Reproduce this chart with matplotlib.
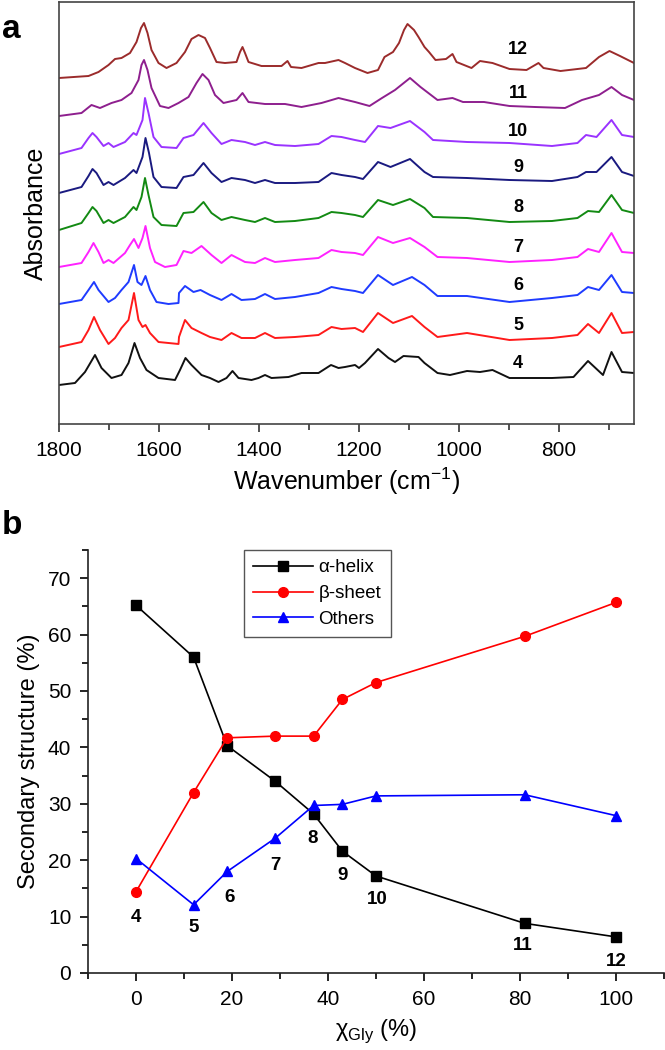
import matplotlib
matplotlib.use("Agg")
import matplotlib.pyplot as plt
from matplotlib.ticker import MultipleLocator, NullLocator

plt.rcParams['font.family'] = ['Liberation Sans', 'DejaVu Sans']

# ---------------- Panel a: FTIR spectra (offset, arbitrary units) ----------------
wn_12 = [1800, 1741, 1721, 1701, 1688, 1675, 1658, 1645, 1636, 1630, 1623, 1615, 1601, 1585, 1565,
         1548, 1535, 1521, 1508, 1498, 1485, 1468, 1445, 1438, 1433, 1428, 1421, 1395, 1355, 1343,
         1336, 1315, 1281, 1268, 1241, 1228, 1208, 1183, 1162, 1149, 1132, 1120, 1110, 1103, 1090,
         1081, 1069, 1060, 1047, 1026, 1013, 1005, 975, 958, 933, 899, 865, 841, 831, 797, 746, 720,
         699, 678, 650]
ab_12 = [3.46, 3.48, 3.52, 3.59, 3.65, 3.66, 3.71, 3.82, 3.96, 4.01, 3.91, 3.74, 3.61, 3.56, 3.61,
         3.72, 3.85, 3.89, 3.86, 3.76, 3.62, 3.61, 3.62, 3.72, 3.77, 3.71, 3.62, 3.58, 3.58, 3.63,
         3.57, 3.56, 3.61, 3.61, 3.64, 3.61, 3.56, 3.51, 3.54, 3.67, 3.72, 3.81, 3.94, 4.00, 3.94,
         3.87, 3.77, 3.72, 3.64, 3.65, 3.70, 3.62, 3.56, 3.63, 3.61, 3.55, 3.54, 3.61, 3.56, 3.53, 3.56,
         3.67, 3.73, 3.68, 3.61]

wn_11 = [1800, 1755, 1735, 1718, 1695, 1675, 1655, 1641, 1635, 1630, 1623, 1615, 1598, 1581, 1561,
         1541, 1525, 1513, 1501, 1488, 1471, 1445, 1433, 1421, 1388, 1348, 1315, 1275, 1241, 1208,
         1179, 1154, 1128, 1098, 1077, 1043, 1013, 992, 950, 899, 848, 788, 754, 720, 695, 674, 650]
ab_11 = [3.08, 3.11, 3.19, 3.16, 3.21, 3.24, 3.31, 3.44, 3.59, 3.64, 3.54, 3.36, 3.18, 3.16, 3.21,
         3.27, 3.41, 3.50, 3.44, 3.29, 3.21, 3.24, 3.31, 3.22, 3.20, 3.20, 3.17, 3.21, 3.26, 3.22,
         3.18, 3.26, 3.34, 3.46, 3.37, 3.24, 3.26, 3.22, 3.22, 3.18, 3.17, 3.16, 3.24, 3.29, 3.37, 3.29, 3.24]

wn_10 = [1800, 1755, 1741, 1733, 1725, 1711, 1701, 1691, 1668, 1651, 1645, 1633, 1628, 1621, 1611,
         1595, 1565, 1551, 1531, 1511, 1495, 1475, 1455, 1428, 1408, 1388, 1368, 1328, 1281, 1255,
         1235, 1208, 1188, 1162, 1137, 1098, 1069, 1052, 984, 899, 814, 763, 746, 725, 695, 674, 650]
ab_10 = [2.70, 2.76, 2.86, 2.91, 2.87, 2.78, 2.81, 2.77, 2.82, 2.91, 2.89, 3.04, 3.26, 3.11, 2.87,
         2.77, 2.76, 2.86, 2.89, 3.01, 2.91, 2.80, 2.84, 2.82, 2.79, 2.82, 2.79, 2.78, 2.80, 2.88,
         2.87, 2.84, 2.82, 2.98, 2.96, 3.03, 2.92, 2.84, 2.82, 2.81, 2.78, 2.81, 2.89, 2.87, 3.04, 2.89, 2.87]

wn_9 = [1800, 1755, 1741, 1733, 1725, 1711, 1701, 1691, 1668, 1651, 1645, 1633, 1627, 1620, 1611,
        1595, 1565, 1551, 1531, 1511, 1495, 1475, 1455, 1428, 1408, 1388, 1368, 1328, 1281, 1255,
        1235, 1208, 1192, 1162, 1137, 1098, 1069, 1052, 984, 899, 814, 763, 746, 725, 695, 674, 650]
ab_9 = [2.31, 2.37, 2.48, 2.55, 2.51, 2.39, 2.42, 2.39, 2.46, 2.54, 2.51, 2.67, 2.86, 2.71, 2.47,
        2.37, 2.36, 2.47, 2.49, 2.61, 2.51, 2.42, 2.46, 2.44, 2.41, 2.44, 2.41, 2.41, 2.42, 2.51,
        2.49, 2.47, 2.45, 2.62, 2.57, 2.65, 2.52, 2.47, 2.46, 2.44, 2.43, 2.47, 2.52, 2.52, 2.67, 2.52, 2.48]

wn_8 = [1800, 1755, 1741, 1733, 1725, 1711, 1701, 1691, 1668, 1651, 1645, 1635, 1628, 1621, 1611,
        1595, 1565, 1551, 1531, 1511, 1495, 1475, 1455, 1428, 1408, 1388, 1368, 1328, 1281, 1255,
        1235, 1208, 1192, 1162, 1132, 1098, 1069, 1052, 984, 899, 814, 763, 742, 720, 695, 674, 650]
ab_8 = [1.94, 2.01, 2.11, 2.17, 2.13, 2.01, 2.04, 2.01, 2.07, 2.17, 2.14, 2.27, 2.46, 2.29, 2.07,
        1.99, 1.98, 2.11, 2.12, 2.22, 2.11, 2.04, 2.07, 2.04, 2.02, 2.06, 2.02, 2.03, 2.06, 2.12,
        2.11, 2.09, 2.07, 2.24, 2.19, 2.25, 2.16, 2.07, 2.06, 2.02, 2.03, 2.06, 2.13, 2.12, 2.29, 2.14, 2.11]

wn_7 = [1800, 1755, 1741, 1731, 1721, 1711, 1701, 1691, 1668, 1658, 1650, 1641, 1633, 1627, 1618,
        1608, 1588, 1565, 1551, 1535, 1515, 1495, 1475, 1455, 1428, 1408, 1388, 1368, 1328, 1281,
        1255, 1235, 1208, 1192, 1162, 1132, 1098, 1069, 1043, 984, 899, 814, 763, 742, 720, 695, 674, 650]
ab_7 = [1.57, 1.61, 1.72, 1.81, 1.72, 1.61, 1.64, 1.61, 1.71, 1.79, 1.85, 1.76, 1.86, 1.98, 1.76,
        1.62, 1.57, 1.59, 1.73, 1.71, 1.78, 1.69, 1.61, 1.69, 1.62, 1.61, 1.66, 1.62, 1.64, 1.66,
        1.74, 1.72, 1.71, 1.69, 1.87, 1.81, 1.86, 1.77, 1.67, 1.66, 1.62, 1.64, 1.67, 1.75, 1.72, 1.91, 1.72, 1.71]

wn_6 = [1800, 1755, 1741, 1730, 1721, 1701, 1688, 1675, 1661, 1650, 1643, 1635, 1627, 1618, 1605,
        1581, 1561, 1560, 1548, 1531, 1517, 1498, 1475, 1455, 1435, 1408, 1388, 1368, 1328, 1281,
        1255, 1235, 1208, 1192, 1162, 1132, 1094, 1069, 1043, 984, 899, 814, 763, 742, 720, 695, 674, 650]
ab_6 = [1.20, 1.24, 1.34, 1.42, 1.34, 1.22, 1.26, 1.34, 1.42, 1.59, 1.42, 1.39, 1.48, 1.34, 1.22,
        1.20, 1.21, 1.31, 1.38, 1.32, 1.34, 1.29, 1.24, 1.30, 1.24, 1.25, 1.30, 1.25, 1.27, 1.31,
        1.37, 1.35, 1.33, 1.31, 1.49, 1.39, 1.47, 1.39, 1.28, 1.28, 1.22, 1.26, 1.29, 1.37, 1.34, 1.49, 1.32, 1.31]

wn_5 = [1800, 1755, 1741, 1730, 1718, 1701, 1688, 1675, 1661, 1650, 1641, 1633, 1627, 1618, 1601,
        1561, 1560, 1548, 1535, 1515, 1498, 1475, 1455, 1435, 1408, 1388, 1368, 1328, 1281, 1255,
        1235, 1208, 1192, 1162, 1132, 1094, 1069, 1043, 984, 899, 814, 763, 742, 720, 695, 674, 650]
ab_5 = [0.77, 0.82, 0.94, 1.07, 0.94, 0.80, 0.86, 0.96, 1.04, 1.31, 1.04, 0.97, 0.99, 0.91, 0.82,
        0.80, 0.87, 1.04, 0.96, 0.91, 0.87, 0.84, 0.91, 0.86, 0.86, 0.91, 0.86, 0.87, 0.89, 0.97,
        0.95, 0.96, 0.92, 1.11, 1.01, 1.08, 0.97, 0.87, 0.91, 0.84, 0.86, 0.89, 1.00, 0.91, 1.11, 0.91, 0.92]

wn_4 = [1800, 1768, 1748, 1728, 1715, 1695, 1675, 1661, 1649, 1638, 1625, 1601, 1568, 1558, 1547,
        1535, 1515, 1498, 1481, 1465, 1453, 1441, 1415, 1401, 1388, 1375, 1341, 1315, 1281, 1256,
        1241, 1228, 1208, 1200, 1188, 1162, 1141, 1128, 1111, 1081, 1069, 1043, 1018, 984, 958,
        933, 899, 814, 771, 742, 712, 695, 674, 650]
ab_4 = [0.39, 0.41, 0.52, 0.69, 0.56, 0.46, 0.49, 0.61, 0.81, 0.66, 0.54, 0.46, 0.44, 0.54, 0.66,
        0.59, 0.49, 0.46, 0.42, 0.46, 0.53, 0.46, 0.44, 0.46, 0.49, 0.46, 0.47, 0.51, 0.51, 0.59,
        0.56, 0.57, 0.59, 0.56, 0.61, 0.75, 0.66, 0.62, 0.68, 0.67, 0.61, 0.51, 0.49, 0.53, 0.52,
        0.54, 0.46, 0.46, 0.47, 0.63, 0.49, 0.72, 0.52, 0.51]

spec_labels = ['12', '11', '10', '9', '8', '7', '6', '5', '4']
spec_wn = [wn_12, wn_11, wn_10, wn_9, wn_8, wn_7, wn_6, wn_5, wn_4]
spec_ab = [ab_12, ab_11, ab_10, ab_9, ab_8, ab_7, ab_6, ab_5, ab_4]
spec_colors = ['#9B2B2B', '#8E1F8E', '#9A33FF', '#1A1A80', '#138A13', '#FF22FF', '#1F3BFF', '#FF1A1A', '#111111']
label_wn = 882
label_y = [3.74, 3.31, 2.92, 2.56, 2.17, 1.76, 1.39, 0.99, 0.60]

# ---------------- Panel b: secondary structure ----------------
chi_gly = [0, 12, 19, 29, 37, 43, 50, 81, 100]
alpha_helix = [65.2, 56.0, 40.3, 34.0, 28.2, 21.6, 17.2, 8.8, 6.4]
beta_sheet = [14.4, 32.0, 41.7, 42.0, 42.0, 48.5, 51.5, 59.7, 65.7]
others = [20.3, 12.1, 18.0, 23.9, 29.7, 29.9, 31.4, 31.6, 27.9]
point_labels = ['4', '5', '6', '7', '8', '9', '10', '11', '12']
point_label_x = [0, 12, 19.5, 29, 36.8, 43, 50.3, 80.6, 100]
point_label_y = [9.8, 8.0, 13.4, 19.0, 23.8, 17.2, 13.1, 4.8, 2.1]

W, H = 665, 1050
fig = plt.figure(figsize=(W / 100, H / 100), dpi=100)

# Panel a
axa = fig.add_axes([59 / W, 1 - 424 / H, (634 - 59) / W, (424 - 2) / H])
for wn, ab, c in zip(spec_wn, spec_ab, spec_colors):
    axa.plot(wn, ab, color=c, lw=1.4, solid_joinstyle='round')
for lab, y in zip(spec_labels, label_y):
    axa.text(label_wn, y, lab, fontsize=13, fontweight='bold', ha='center', va='center')
axa.set_xlim(1800, 650)
axa.set_ylim(0, 4.22)
axa.xaxis.set_major_locator(MultipleLocator(200))
axa.xaxis.set_minor_locator(MultipleLocator(100))
axa.yaxis.set_major_locator(NullLocator())
axa.tick_params(axis='x', which='major', direction='out', length=6, width=1.2, labelsize=15, pad=6, color='#333333')
axa.tick_params(axis='x', which='minor', direction='out', length=4, width=1.2, color='#333333')
for s in axa.spines.values():
    s.set_color('#444444')
    s.set_linewidth(1.2)
axa.set_xlabel('Wavenumber (cm$^{\\mathregular{-1}}$)', fontsize=18, labelpad=4)
axa.set_ylabel('Absorbance', fontsize=18, labelpad=8)
fig.text(2 / W, 1 - 30 / H, 'a', fontsize=24, fontweight='bold', va='center', ha='left')

# Panel b
axb = fig.add_axes([88 / W, 1 - 973 / H, (664 - 88) / W, (973 - 550) / H])
axb.plot(chi_gly, alpha_helix, '-s', color='black', ms=6.5, lw=1.2, label='α-helix')
axb.plot(chi_gly, beta_sheet, '-o', color='#FF0000', ms=7, lw=1.2, label='β-sheet')
axb.plot(chi_gly, others, '-^', color='#0000FF', ms=7.5, lw=1.2, label='Others')
for lab, x, y in zip(point_labels, point_label_x, point_label_y):
    axb.text(x, y, lab, fontsize=13.5, fontweight='bold', ha='center', va='center')
axb.set_xlim(-10, 110)
axb.set_ylim(0, 75)
axb.spines['top'].set_visible(False)
axb.spines['right'].set_visible(False)
for s in ('left', 'bottom'):
    axb.spines[s].set_linewidth(1.2)
    axb.spines[s].set_color('#222222')
axb.xaxis.set_minor_locator(MultipleLocator(10))
axb.yaxis.set_minor_locator(MultipleLocator(5))
axb.set_xticks([0, 20, 40, 60, 80, 100])
axb.set_yticks([0, 10, 20, 30, 40, 50, 60, 70])
axb.tick_params(which='major', direction='out', length=6, width=1.2, labelsize=15, pad=6)
axb.tick_params(which='minor', direction='out', length=4, width=1.2)
axb.set_xlabel('χ$_{\\mathregular{Gly}}$ (%)', fontsize=17, labelpad=6)
axb.set_ylabel('Secondary structure (%)', fontsize=17, labelpad=6)
leg = axb.legend(loc='upper left', bbox_to_anchor=(0.27, 1.0), borderaxespad=0, fontsize=13.5,
                 handlelength=3.2, fancybox=False, edgecolor='#555555', framealpha=1,
                 borderpad=0.5, labelspacing=0.45, handletextpad=0.3)
leg.get_frame().set_linewidth(1.0)
fig.text(2 / W, 1 - 525 / H, 'b', fontsize=24, fontweight='bold', va='center', ha='left')

fig.savefig('out.png', dpi=100)
